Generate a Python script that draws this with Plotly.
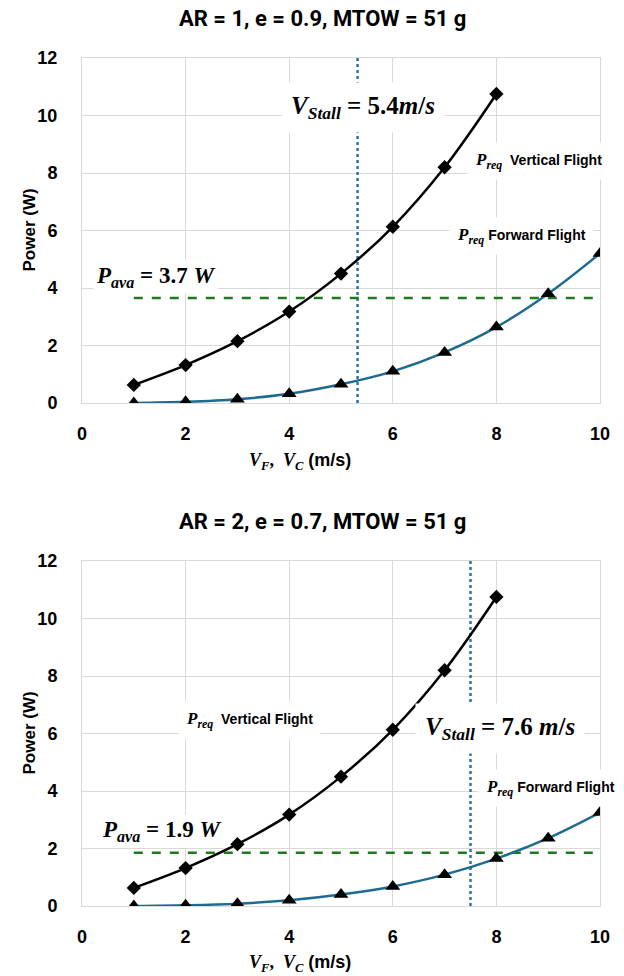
import plotly.graph_objects as go

# ---------------- data ----------------
v_vert = [1, 2, 3, 4, 5, 6, 7, 8]
p_vert = [0.63, 1.32, 2.15, 3.18, 4.5, 6.13, 8.2, 10.75]

v_fwd = [1, 2, 3, 4, 5, 6, 7, 8, 9, 10]
p_fwd_1 = [0.0, 0.04, 0.13, 0.32, 0.65, 1.1, 1.76, 2.64, 3.8, 5.2]
p_fwd_2 = [0.0, 0.025, 0.08, 0.2, 0.4, 0.68, 1.09, 1.65, 2.36, 3.25]

titles = ["AR = 1, e = 0.9, MTOW = 51 g", "AR = 2, e = 0.7, MTOW = 51 g"]
p_ava = [3.65, 1.85]
p_ava_labels = ["3.7", "1.9"]
v_stall = [5.32, 7.5]
v_stall_labels = ["5.4<i>m</i>/<i>s</i>", "7.6 <i>m</i>/<i>s</i>"]
x_ticks = [0, 2, 4, 6, 8, 10]
y_ticks = [0, 2, 4, 6, 8, 10, 12]

# ---------------- styles ----------------
BLACK = "#000000"
BLUE = "#1F6B8E"
DOT = "#2F73A3"
GREEN = "#1E7A1E"
GRID = "#D9D9D9"
SERIF = "Liberation Serif"
SANS = "Liberation Sans"

W, H = 624, 976
PX_L, PX_R = 82, 600
panels = [(58, 403), (561, 906)]  # top/bottom pixel of plot area

fig = go.Figure()

fwd_sets = [p_fwd_1, p_fwd_2]
for i in range(2):
    xa = "x" if i == 0 else "x2"
    ya = "y" if i == 0 else "y2"
    # reference lines
    fig.add_trace(go.Scatter(x=[v_stall[i], v_stall[i]], y=[0, 12], mode="lines",
                             line=dict(color=DOT, width=2.5, dash="dot"),
                             xaxis=xa, yaxis=ya, showlegend=False, hoverinfo="skip"))
    fig.add_trace(go.Scatter(x=[1, 10], y=[p_ava[i], p_ava[i]], mode="lines",
                             line=dict(color=GREEN, width=2.5, dash="dash"),
                             xaxis=xa, yaxis=ya, showlegend=False, hoverinfo="skip"))
    # curves
    fig.add_trace(go.Scatter(x=v_fwd, y=fwd_sets[i], mode="lines+markers",
                             line=dict(color=BLUE, width=2.5, shape="spline"),
                             marker=dict(symbol="triangle-up", size=13, color=BLACK),
                             xaxis=xa, yaxis=ya, showlegend=False))
    fig.add_trace(go.Scatter(x=v_vert, y=p_vert, mode="lines+markers",
                             line=dict(color=BLACK, width=2.5, shape="spline"),
                             marker=dict(symbol="diamond", size=11, color=BLACK),
                             xaxis=xa, yaxis=ya, showlegend=False))

axis_common = dict(showgrid=True, gridcolor=GRID, gridwidth=1, zeroline=False,
                   showline=True, mirror=True, linecolor=GRID, linewidth=1,
                   automargin=False, ticks="",
                   tickfont=dict(family=SANS, size=18, color=BLACK, weight="bold"))

layout = dict(width=W, height=H, margin=dict(l=0, r=0, t=0, b=0, pad=0, autoexpand=False),
              paper_bgcolor="white", plot_bgcolor="white", showlegend=False)

xdom = [PX_L / W, PX_R / W]
for i, (top, bot) in enumerate(panels):
    sfx = "" if i == 0 else "2"
    ydom = [1 - bot / H, 1 - top / H]
    layout["xaxis" + sfx] = dict(axis_common, domain=xdom, range=[0, 10], tickvals=x_ticks,
                                 ticklabelstandoff=14, anchor="y" + sfx)
    layout["yaxis" + sfx] = dict(axis_common, domain=ydom, range=[0, 12], tickvals=y_ticks,
                                 ticklabelstandoff=20, anchor="x" + sfx)

fig.update_layout(**layout)

ann = []
title_y = [19, 521]
xtitle_y = [461, 963]
for i, (top, bot) in enumerate(panels):
    # chart title
    ann.append(dict(text="<b>" + titles[i] + "</b>", x=322 / W, y=1 - title_y[i] / H,
                    xref="paper", yref="paper", showarrow=False, yanchor="middle",
                    font=dict(family="Roboto", size=22, color=BLACK)))
    # x axis title
    ann.append(dict(text='<span style="font-family:Liberation Serif"><b><i>V</i><sub><i>F</i></sub>,  <i>V</i><sub><i>C</i></sub></b></span> <b>(m/s)</b>',
                    x=300 / W, y=1 - xtitle_y[i] / H, xref="paper", yref="paper", showarrow=False,
                    yanchor="middle",
                    font=dict(family=SANS, size=18, color=BLACK)))
    # y axis title
    ann.append(dict(text="<b>Power (W)</b>", x=29 / W, y=1 - (top + bot) / 2 / H,
                    xref="paper", yref="paper", showarrow=False, textangle=-90,
                    xanchor="center", yanchor="middle",
                    font=dict(family=SANS, size=17, color=BLACK)))

preq = '<span style="font-family:Liberation Serif;font-size:17px"><b><i>P</i></b><sub><b><i>req</i></b></sub></span>'
# label positions (data coords) per panel
lab = [
    dict(stall=(5.42, 10.28), vert=(8.82, 8.43), fwd=(8.49, 5.82), ava=(1.41, 4.37)),
    dict(stall=(8.07, 6.19), vert=(3.24, 6.47), fwd=(9.05, 4.10), ava=(1.53, 2.6)),
]
for i in range(2):
    xr = "x" if i == 0 else "x2"
    yr = "y" if i == 0 else "y2"
    L = lab[i]
    ann.append(dict(text="<b><i>V</i><sub><i>Stall</i></sub> = " + v_stall_labels[i] + "</b>",
                    x=L["stall"][0], y=L["stall"][1], xref=xr, yref=yr, showarrow=False,
                    bgcolor="white", borderpad=9,
                    font=dict(family=SERIF, size=25, color=BLACK)))
    ann.append(dict(text=preq + "  <b>Vertical Flight</b>", x=L["vert"][0], y=L["vert"][1],
                    xref=xr, yref=yr, showarrow=False, bgcolor="white", borderpad=7,
                    font=dict(family=SANS, size=14, color=BLACK)))
    ann.append(dict(text=preq + " <b>Forward Flight</b>", x=L["fwd"][0], y=L["fwd"][1],
                    xref=xr, yref=yr, showarrow=False, bgcolor="white", borderpad=7,
                    font=dict(family=SANS, size=14, color=BLACK)))
    ann.append(dict(text="<b><i>P</i><sub><i>ava</i></sub> = " + p_ava_labels[i] + " <i>W</i></b>",
                    x=L["ava"][0], y=L["ava"][1], xref=xr, yref=yr, showarrow=False,
                    bgcolor="white", borderpad=2,
                    font=dict(family=SERIF, size=23, color=BLACK)))

fig.update_layout(annotations=ann)
fig.write_html("out.html")
